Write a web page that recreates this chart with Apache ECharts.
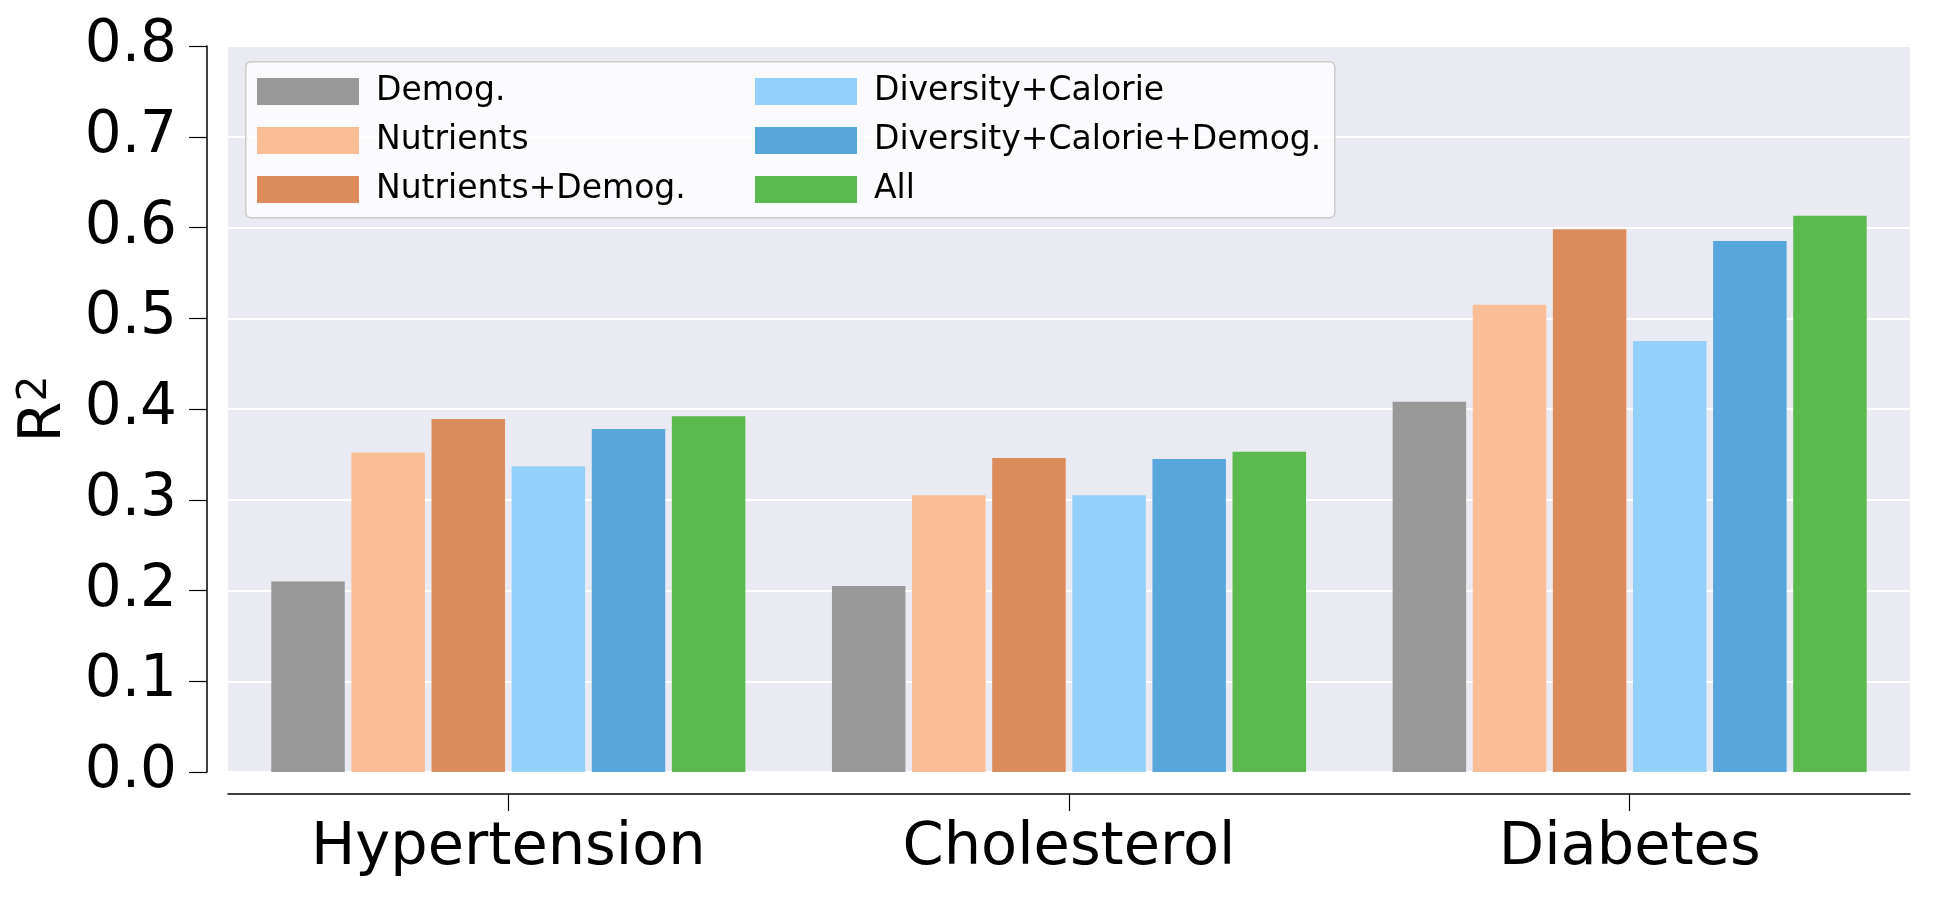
<!DOCTYPE html>
<html>
<head>
<meta charset="utf-8">
<script src="https://cdn.jsdelivr.net/npm/echarts@6/dist/echarts.min.js"></script>
<style>
  html, body { margin: 0; padding: 0; background: #fff; }
  #chart { width: 1950px; height: 900px; }
</style>
</head>
<body>
<div id="chart"></div>
<script>
// categories on the x axis
const categories = ['Hypertension', 'Cholesterol', 'Diabetes'];
// R^2 per feature set
const demog = [0.210, 0.205, 0.408];
const nutrients = [0.352, 0.305, 0.515];
const nutrientsDemog = [0.389, 0.346, 0.598];
const diversityCalorie = [0.337, 0.305, 0.475];
const diversityCalorieDemog = [0.378, 0.345, 0.585];
const allFeatures = [0.392, 0.353, 0.613];
const yTicks = [0, 0.1, 0.2, 0.3, 0.4, 0.5, 0.6, 0.7, 0.8];

const font = 'DejaVu Sans';
const myChart = echarts.init(document.getElementById('chart'));

// helper, same look for every bar series
const makeBar = (name, data, color) => ({
  name: name,
  type: 'bar',
  barWidth: 73.5,
  barGap: '9%',
  itemStyle: { color: color },
  emphasis: { disabled: true },
  data: data
});

const legendCommon = {
  orient: 'vertical',
  icon: 'rect',
  itemWidth: 102,
  itemHeight: 27,
  itemGap: 16,
  selectedMode: false,
  textStyle: { fontFamily: font, fontSize: 33, color: '#000', lineHeight: 27, padding: [0, 0, 0, 12] }
};

const option = {
  backgroundColor: '#fff',
  animation: false,
  grid: {
    left: 228, right: 40, top: 46, bottom: 128,
    show: true, backgroundColor: '#EAEAF2', borderWidth: 0
  },
  //legend box frame
  graphic: [{
    type: 'rect',
    left: 245, top: 61,
    shape: { width: 1089, height: 156, r: 5 },
    style: { fill: 'rgba(255,255,255,0.8)', stroke: '#cccccc', lineWidth: 1.5 },
    z: 10
  }],
  legend: [
    Object.assign({ left: 252, top: 70, data: ['Demog.', 'Nutrients', 'Nutrients+Demog.'], z: 20 }, legendCommon),
    Object.assign({ left: 750, top: 70, data: ['Diversity+Calorie', 'Diversity+Calorie+Demog.', 'All'], z: 20 }, legendCommon)
  ],
  xAxis: {
    type: 'category',
    data: categories,
    offset: 22,
    axisLine: { show: true, onZero: false, lineStyle: { color: '#000', width: 1.5 } },
    axisTick: { show: true, alignWithLabel: true, length: 17, lineStyle: { color: '#000', width: 1.2 } },
    axisLabel: { fontFamily: font, fontSize: 59, color: '#000', margin: 25 },
    splitLine: { show: false }
  },
  yAxis: {
    type: 'value',
    min: yTicks[0],
    max: yTicks[yTicks.length - 1],
    interval: 0.1,
    offset: 21,
    name: '{r|R}{s|2}',
    nameLocation: 'middle',
    nameRotate: 90,
    nameGap: 124,
    nameTextStyle: {
      fontFamily: font, fontSize: 59, color: '#000',
      rich: {
        r: { fontFamily: font, fontSize: 59, color: '#000' },
        s: { fontFamily: font, fontSize: 41, color: '#000', verticalAlign: 'top', lineHeight: 30 }
      }
    },
    axisLine: { show: true, lineStyle: { color: '#000', width: 1.5 } },
    axisTick: { show: true, length: 18, lineStyle: { color: '#000', width: 1.2 } },
    axisLabel: {
      fontFamily: font, fontSize: 58, color: '#000', margin: 30,
      formatter: v => v.toFixed(1)
    },
    splitLine: { show: true, lineStyle: { color: '#ffffff', width: 2 } }
  },
  series: [
    makeBar('Demog.', demog, '#989898'),
    makeBar('Nutrients', nutrients, '#F9BE95'),
    makeBar('Nutrients+Demog.', nutrientsDemog, '#DC8C5A'),
    makeBar('Diversity+Calorie', diversityCalorie, '#94D0FA'),
    makeBar('Diversity+Calorie+Demog.', diversityCalorieDemog, '#58A7DC'),
    makeBar('All', allFeatures, '#5ABA4D')
  ]
};

// 使用配置项显示图表
myChart.setOption(option);
</script>
</body>
</html>
